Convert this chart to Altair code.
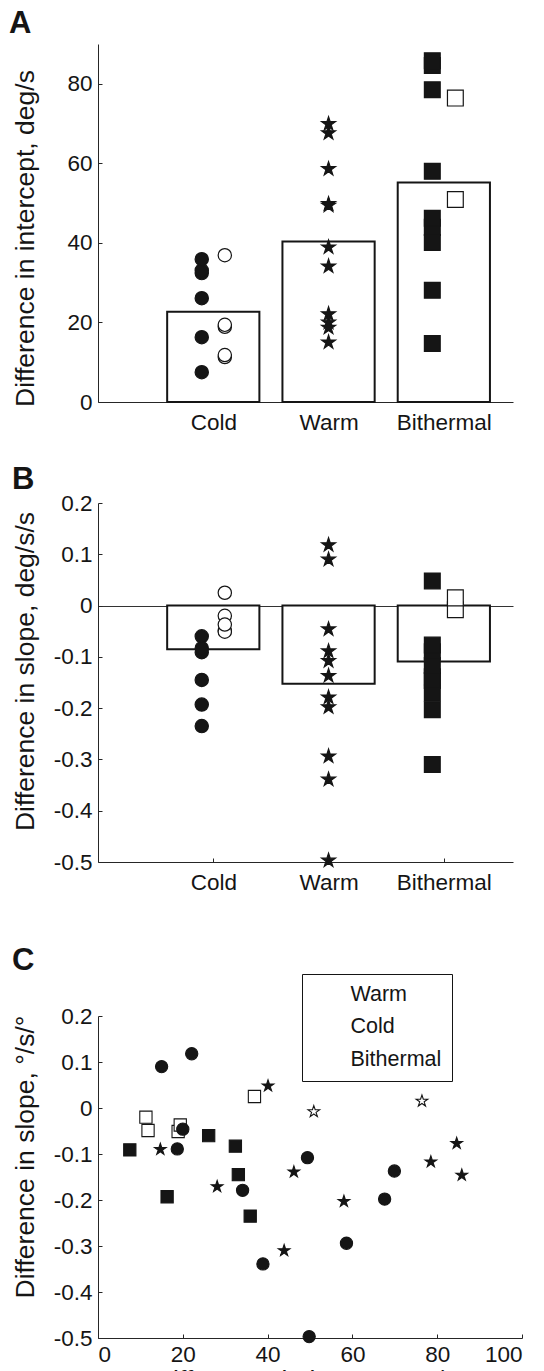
import json
import altair as alt
import pandas as pd

FONT = "Liberation Sans"
INK = "#151515"

categories = ["Cold", "Warm", "Bithermal"]

# Cold: 6 filled, 5 open
cold_intercept = [7.5, 16.3, 26.1, 32.4, 33.1, 35.9, 11.3, 11.8, 18.9, 19.4, 36.9]
cold_slope = [-0.091, -0.193, -0.060, -0.083, -0.145, -0.235, -0.020, -0.049, -0.051, -0.037, 0.025]
cold_filled = [True, True, True, True, True, True, False, False, False, False, False]

# Warm: all filled
warm_intercept = [15.0, 22.1, 20.0, 18.7, 34.1, 38.9, 49.4, 49.8, 58.6, 67.6, 69.9]
warm_slope = [0.090, 0.118, -0.046, -0.089, -0.179, -0.339, -0.108, -0.497, -0.294, -0.198, -0.137]
warm_filled = [True, True, True, True, True, True, True, True, True, True, True]

# Bithermal: 9 filled, 2 open
bith_intercept = [14.7, 28.1, 40.1, 43.9, 46.2, 58.0, 78.5, 84.6, 85.8, 50.9, 76.4]
bith_slope = [-0.090, -0.171, 0.048, -0.310, -0.139, -0.203, -0.117, -0.077, -0.146, -0.008, 0.015]
bith_filled = [True, True, True, True, True, True, True, True, True, False, False]

legend_order = ["Warm", "Cold", "Bithermal"]

A_ticks = [0, 20, 40, 60, 80]
B_ticks = [-0.5, -0.4, -0.3, -0.2, -0.1, 0, 0.1, 0.2]
C_xticks = [0, 20, 40, 60, 80, 100]

rows = []
for g, xs, ys, fs in [("Cold", cold_intercept, cold_slope, cold_filled),
                      ("Warm", warm_intercept, warm_slope, warm_filled),
                      ("Bithermal", bith_intercept, bith_slope, bith_filled)]:
    for a, b, f in zip(xs, ys, fs):
        rows.append({"group": g, "gi": categories.index(g), "intercept": a,
                     "slope": b, "filled": bool(f)})
df = pd.DataFrame(rows)
df = pd.concat([df[~df.filled], df[df.filled]], ignore_index=True)

STAR = ("M0,-1L0.2245,-0.309L0.951,-0.309L0.363,0.118L0.588,0.809L0,0.382"
        "L-0.588,0.809L-0.363,0.118L-0.951,-0.309L-0.2245,-0.309Z")

W_AB, H_A, H_B = 415, 358, 359
W_C, H_C = 424, 322

TICK = 22.5
TITLE = 26.5
cat_expr = json.dumps(categories) + "[datum.value - 1]"
num_expr = "replace(format(datum.value, '.1~f'), '\u2212', '-')"


def main_x_cat():
    return alt.Axis(orient="bottom", values=[1, 2, 3], labelExpr=cat_expr,
                    ticks=False, labelPadding=9, labelFontSize=TICK,
                    title=None, grid=False)


def tick_x(values, h):
    return alt.Axis(orient="top", offset=-h, values=values, labels=False,
                    domain=False, ticks=True, tickSize=4, title=None, grid=False)


def tick_y(values, w):
    return alt.Axis(orient="right", offset=-w, values=values, labels=False,
                    domain=False, ticks=True, tickSize=4, title=None, grid=False)


def main_y(values, title, ty, expr=None, zero_grid=False):
    kw = dict(orient="left", values=values, ticks=False,
              labelPadding=6, labelFontSize=TICK, title=title, titleX=-64.4,
              titleY=ty, titleAngle=270, titleAlign="center",
              titleBaseline="alphabetic", titleFontSize=TITLE,
              titleFontWeight="normal", grid=False)
    if expr:
        kw["labelExpr"] = expr
    if zero_grid:
        kw["grid"] = True
        kw["gridColor"] = "#333333"
        kw["gridWidth"] = 1
        kw["gridOpacity"] = alt.condition("datum.value == 0", alt.value(1), alt.value(0))
    return alt.Axis(**kw)


def letter(t, off, dx):
    return alt.TitleParams(text=t, anchor="start", frame="group",
                           offset=off, baseline="alphabetic", dx=dx,
                           fontSize=31, fontWeight="bold", font=FONT, color=INK)


def bar_panel(field, ydom, yvals, ytitle, ty, h, letter_t, letter_off, letter_dx,
              expr=None, zero_grid=False):
    xscale = alt.Scale(domain=[0, 3.6], nice=False, zero=False)
    yscale = alt.Scale(domain=ydom, nice=False, zero=False)
    mean_name = "mean_" + field
    base = alt.Chart(df)
    bars = base.transform_aggregate(
        **{mean_name: "mean(%s)" % field}, groupby=["group", "gi"]
    ).transform_calculate(
        xa="datum.gi + 1 - 0.4", xb="datum.gi + 1 + 0.4", z="0"
    ).mark_bar(fill="white", stroke=INK, strokeWidth=2).encode(
        x=alt.X("xa:Q", scale=xscale, axis=main_x_cat()),
        x2="xb:Q",
        y=alt.Y("%s:Q" % mean_name, scale=yscale,
                axis=main_y(yvals, ytitle, ty, expr, zero_grid)),
        y2="z:Q",
    )
    pts = base.transform_calculate(
        xp="datum.gi + 1 + (datum.group == 'Warm' ? 0 : (datum.filled ? -0.1 : 0.1))"
    ).mark_point(filled=True, opacity=1, strokeWidth=1.2).encode(
        x=alt.X("xp:Q", scale=xscale, axis=tick_x([1, 2, 3], h)),
        y=alt.Y("%s:Q" % field, scale=yscale, axis=tick_y(yvals, W_AB)),
        shape=alt.Shape("group:N", scale=alt.Scale(domain=categories,
                        range=["circle", STAR, "square"]), legend=None),
        size=alt.Size("group:N", sort=categories, scale=alt.Scale(domain=categories,
                      range=[177, 250, 161]), legend=None),
        fill=alt.condition("datum.filled", alt.value(INK), alt.value("white")),
        stroke=alt.value(INK),
    )
    return alt.layer(bars, pts).resolve_axis(x="independent", y="independent").properties(
        width=W_AB, height=h, title=letter(letter_t, letter_off, letter_dx))


panelA = bar_panel("intercept", [0, 90], A_ticks, "Difference in intercept, deg/s",
                   194, H_A, "A", -20, -89)
panelB = bar_panel("slope", [-0.5, 0.2], B_ticks, "Difference in slope, deg/s/s",
                   168, H_B, "B", -28, -86, expr=num_expr, zero_grid=True)

xC = alt.Scale(domain=[0, 100], nice=False, zero=False)
yC = alt.Scale(domain=[-0.5, 0.2], nice=False, zero=False)

baseC = alt.Chart(df)
ptsC = baseC.mark_point(filled=True, opacity=1, strokeWidth=1.1, size=150).encode(
    x=alt.X("intercept:Q", scale=xC,
            axis=alt.Axis(orient="bottom", values=C_xticks, ticks=False,
                          labelPadding=5, labelFontSize=TICK,
                          title="Difference in intercept, °/s", titleFontSize=TITLE,
                          titleFontWeight="normal", titleX=207, titleY=50,
                          titleAlign="center", titleBaseline="alphabetic",
                          grid=False)),
    y=alt.Y("slope:Q", scale=yC,
            axis=main_y(B_ticks, "Difference in slope, °/s/°", 140.5, num_expr)),
    shape=alt.Shape("group:N", scale=alt.Scale(domain=legend_order,
                    range=["circle", "square", STAR]),
                    legend=alt.Legend(orient="none", legendX=204, legendY=-42,
                                      title=None, strokeColor=INK, fillColor="white",
                                      padding=10, symbolOffset=5, labelOffset=12,
                                      rowPadding=9.5, labelFontSize=21.5,
                                      labelFont=FONT, labelColor=INK,
                                      symbolSize=120, symbolFillColor=INK,
                                      symbolStrokeColor=INK, symbolStrokeWidth=1)),
    fill=alt.condition("datum.filled", alt.value(INK), alt.value("white")),
    stroke=alt.value(INK),
)
ticksC = baseC.mark_point(opacity=0).encode(
    x=alt.X("intercept:Q", scale=xC, axis=tick_x(C_xticks, H_C)),
    y=alt.Y("slope:Q", scale=yC, axis=tick_y(B_ticks, W_C)),
)
panelC = alt.layer(ptsC, ticksC).resolve_axis(x="independent", y="independent").properties(
    width=W_C, height=H_C, title=letter("C", -27, -86))

top = alt.vconcat(panelA, panelB, spacing=30).resolve_scale(shape="independent", size="independent")
chart = alt.vconcat(top, panelC, spacing=50).resolve_scale(
    shape="independent", size="independent"
).configure(
    padding={"left": 1, "top": 0, "right": 5, "bottom": 5},
    font=FONT,
).configure_view(stroke=None).configure_axis(
    labelFont=FONT, titleFont=FONT, labelColor=INK, titleColor=INK,
    domainColor="#262626", tickColor="#262626", domainWidth=1, tickWidth=1,
)

chart.save("out.html", embed_options={"renderer": "svg", "actions": False})
